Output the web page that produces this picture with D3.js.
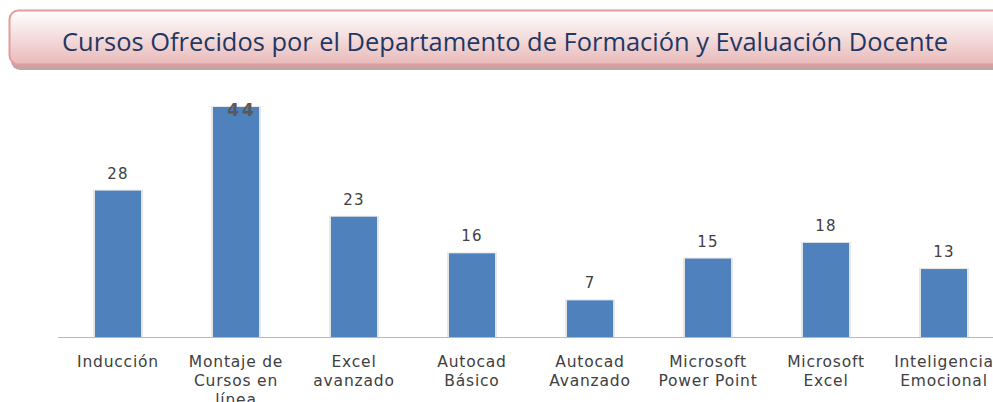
<!DOCTYPE html>
<html>
<head>
<meta charset="utf-8">
<script src="https://cdn.jsdelivr.net/npm/d3@7"></script>
<style>
  body { margin: 0; background: #fff; }
  svg { display: block; }
</style>
</head>
<body>
<svg id="chart"></svg>
<script>
// course names (lines split for the x labels)
var categories = [
  ["Inducción"],
  ["Montaje de", "Cursos en", "línea"],
  ["Excel", "avanzado"],
  ["Autocad", "Básico"],
  ["Autocad", "Avanzado"],
  ["Microsoft", "Power Point"],
  ["Microsoft", "Excel"],
  ["Inteligencia", "Emocional"]
];
var cursos = [28, 44, 23, 16, 7, 15, 18, 13];
var title = "Cursos Ofrecidos por el Departamento de Formación y Evaluación Docente";

var width = 993, height = 402;
var baseY = 337;

var svg = d3.select("#chart")
  .attr("width", width)
  .attr("height", height);

var defs = svg.append("defs");
var grad = defs.append("linearGradient")
  .attr("id", "titleGrad")
  .attr("x1", 0).attr("y1", 0).attr("x2", 0).attr("y2", 1);
grad.append("stop").attr("offset", "0%").attr("stop-color", "#ffffff");
grad.append("stop").attr("offset", "100%").attr("stop-color", "#e9b9b9");

// title banner with a little shadow
svg.append("rect")
  .attr("x", 11).attr("y", 14)
  .attr("width", 1010).attr("height", 56)
  .attr("rx", 9)
  .attr("fill", "#b48e8e")
  .attr("opacity", 0.8);
svg.append("rect")
  .attr("x", 9.5).attr("y", 10.5)
  .attr("width", 1010).attr("height", 54)
  .attr("rx", 9)
  .attr("fill", "url(#titleGrad)")
  .attr("stroke", "#e29c9c")
  .attr("stroke-width", 2);
svg.append("text")
  .attr("x", 505).attr("y", 51)
  .attr("text-anchor", "middle")
  .attr("font-family", "Open Sans, sans-serif")
  .attr("font-size", 26)
  .attr("textLength", 886)
  .attr("lengthAdjust", "spacingAndGlyphs")
  .attr("fill", "#1f3864")
  .text(title);

var x = d3.scaleBand()
  .domain(d3.range(cursos.length))
  .range([59, 59 + 118 * cursos.length])
  .paddingInner(0.61)
  .paddingOuter(0.305);

var y = d3.scaleLinear()
  .domain([0, 44])
  .range([baseY, 107]);

// axis line
svg.append("line")
  .attr("x1", 58).attr("x2", width)
  .attr("y1", baseY + 0.5).attr("y2", baseY + 0.5)
  .attr("stroke", "#b8b8b8")
  .attr("stroke-width", 1.2);

// soft glow behind the bars
svg.selectAll(".glow")
  .data(cursos)
  .enter()
  .append("rect")
  .attr("class", "glow")
  .attr("x", function(d, i) { return x(i) - 2; })
  .attr("y", function(d) { return y(d) - 1; })
  .attr("width", x.bandwidth() + 4)
  .attr("height", function(d) { return baseY - y(d) + 1; })
  .attr("fill", "#e6e6e6");

svg.selectAll(".bar")
  .data(cursos)
  .enter()
  .append("rect")
  .attr("class", "bar")
  .attr("x", function(d, i) { return x(i); })
  .attr("y", function(d) { return y(d); })
  .attr("width", x.bandwidth())
  .attr("height", function(d) { return baseY - y(d); })
  .attr("fill", "#4f81bd");

// value labels (the tallest sits on the bar top)
svg.selectAll(".val")
  .data(cursos)
  .enter()
  .append("text")
  .attr("class", "val")
  .attr("x", function(d, i) { return x(i) + x.bandwidth() / 2 + (d === 44 ? 6 : 0); })
  .attr("y", function(d) { return d === 44 ? y(d) + 9 : y(d) - 12; })
  .attr("text-anchor", "middle")
  .attr("font-family", "DejaVu Sans, sans-serif")
  .attr("font-size", d => d === 44 ? 17 : 15)
  .attr("font-weight", d => d === 44 ? "bold" : "normal")
  .attr("letter-spacing", d => d === 44 ? 3 : 1.2)
  .attr("fill", d => d === 44 ? "#595959" : "#404040")
  .text(function(d) { return d; });

// category labels
var lab = svg.selectAll(".lab")
  .data(categories)
  .enter()
  .append("text")
  .attr("class", "lab")
  .attr("x", function(d, i) { return x(i) + x.bandwidth() / 2; })
  .attr("y", 367)
  .attr("text-anchor", "middle")
  .attr("font-family", "DejaVu Sans, sans-serif")
  .attr("font-size", 15.5)
  .attr("letter-spacing", 0.8)
  .attr("fill", "#404040");

lab.selectAll("tspan")
  .data(function(d) { return d; })
  .enter()
  .append("tspan")
  .attr("x", function() { return d3.select(this.parentNode).attr("x"); })
  .attr("dy", function(d, i) { return i === 0 ? 0 : 19; })
  .text(function(d) { return d; });
</script>
</body>
</html>
